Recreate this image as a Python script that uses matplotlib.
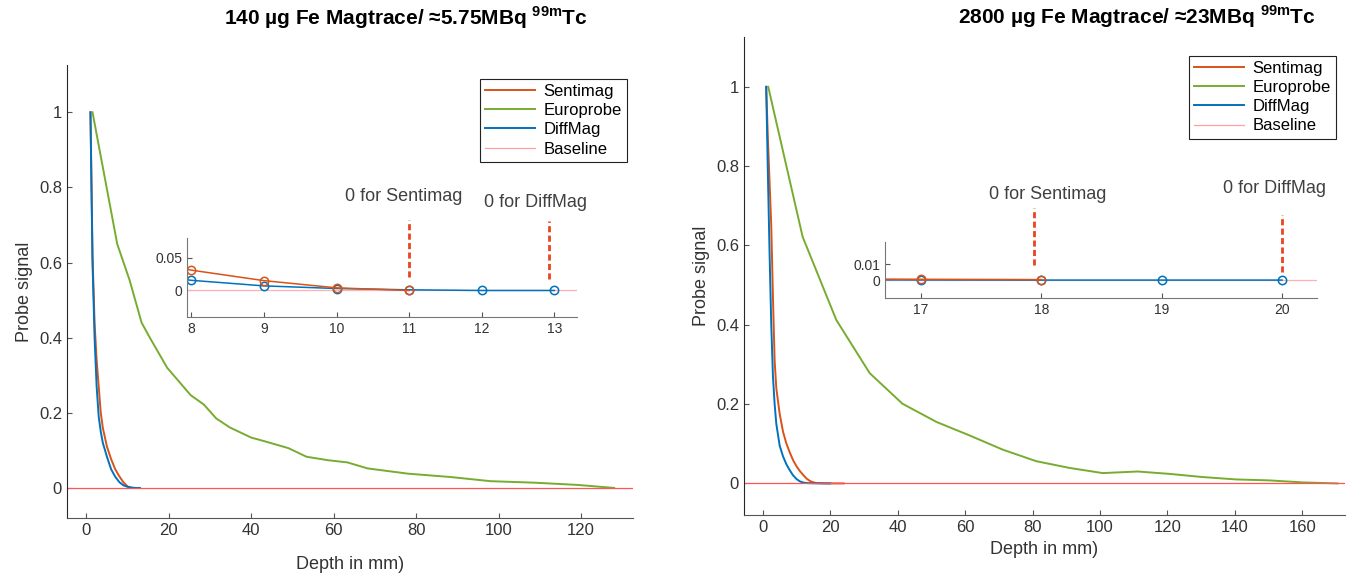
import matplotlib
matplotlib.use('Agg')
import matplotlib.pyplot as plt
import numpy as np

plt.rcParams['font.family'] = ['Liberation Sans', 'DejaVu Sans']
plt.rcParams['mathtext.fontset'] = 'custom'
plt.rcParams['mathtext.rm'] = 'Liberation Sans'
plt.rcParams['mathtext.bf'] = 'Liberation Sans:bold'

# ---- data: 140 ug Fe (left) ----
senti_x_l = [1, 1.5, 2, 2.5, 3, 3.5, 4, 5, 6, 7, 8, 9, 10, 11]
senti_y_l = [1.0, 0.62, 0.44, 0.34, 0.27, 0.2, 0.16, 0.11, 0.077, 0.05, 0.031, 0.015, 0.004, 0.0]
euro_x_l = [1.5, 7.5, 10.5, 13.4, 15.4, 19.6, 25.3, 28.5, 31.5, 34.8, 40, 43, 49, 53.4,
            58.5, 63.3, 68.2, 78, 88.4, 98, 108.7, 119.2, 128]
euro_y_l = [1.0, 0.649, 0.553, 0.44, 0.40, 0.32, 0.247, 0.222, 0.185, 0.161, 0.134, 0.125,
            0.106, 0.083, 0.074, 0.068, 0.052, 0.038, 0.029, 0.018, 0.014, 0.008, 0.0]
diff_x_l = [1, 1.5, 2, 2.5, 3, 3.5, 4, 5, 6, 7, 8, 9, 10, 11, 12, 13]
diff_y_l = [1.0, 0.6, 0.4, 0.27, 0.19, 0.15, 0.12, 0.083, 0.05, 0.03, 0.0155, 0.007, 0.003,
            0.001, 0.0, 0.0]
zero_l = {'Sentimag': 11, 'DiffMag': 13}
inset_start_l = 8

# ---- data: 2800 ug Fe (right) ----
senti_x_r = [1, 1.5, 2, 2.5, 3, 3.5, 4, 5, 6, 7, 8, 9, 10, 11, 12, 13, 14, 15, 16, 17, 18,
             19, 20, 22, 24]
senti_y_r = [1.0, 0.87, 0.76, 0.65, 0.47, 0.31, 0.24, 0.175, 0.13, 0.1, 0.078, 0.058, 0.043,
             0.031, 0.021, 0.012, 0.006, 0.0025, 0.0008, 0.0005, 0.0003, 0.0, 0.0, 0.0, 0.0]
euro_x_r = [1.6, 11.8, 21.8, 31.7, 41.4, 51.5, 61.3, 71.2, 81.1, 91, 100.8, 111.2, 120.6,
            130.5, 140.4, 150.2, 160.1, 170.5]
euro_y_r = [1.0, 0.622, 0.412, 0.278, 0.201, 0.155, 0.121, 0.085, 0.056, 0.039, 0.026,
            0.030, 0.024, 0.016, 0.010, 0.0076, 0.0025, 0.0]
diff_x_r = [1, 1.5, 2, 2.5, 3, 3.5, 4, 5, 6, 7, 8, 9, 10, 11, 12, 13, 14, 15, 16, 17, 18,
            19, 20]
diff_y_r = [1.0, 0.78, 0.58, 0.4, 0.27, 0.2, 0.15, 0.095, 0.068, 0.048, 0.033, 0.02, 0.011,
            0.005, 0.002, 0.001, 0.0005, 0.0003, 0.0002, 0.0001, 0.0, 0.0, 0.0]
zero_r = {'Sentimag': 18, 'DiffMag': 20}
inset_start_r = 16

baseline = 0.0

C_SENTI = '#D95319'
C_EURO = '#77AC30'
C_DIFF = '#0072BD'
C_BASE = '#FF5555'
C_DASH = '#E8441E'
TXT = '#333333'


def style_axes(ax, fs):
    for s in ['top', 'right']:
        ax.spines[s].set_visible(False)
    ax.spines['left'].set_color('#262626')
    ax.spines['bottom'].set_color('#555555')
    ax.tick_params(direction='in', colors='#555555', labelcolor=TXT, labelsize=fs)


def fmt(v):
    return ('%g' % v)


def main_panel(fig, rect, sx, sy, ex, ey, dx, dy, xlim, xmax_tick, legend_anchor, labelpad):
    ax = fig.add_axes(rect)
    ax.plot(sx, sy, color=C_SENTI, lw=1.4, label='Sentimag')
    ax.plot(ex, ey, color=C_EURO, lw=1.4, label='Europrobe')
    ax.plot(dx, dy, color=C_DIFF, lw=1.4, label='DiffMag')
    ax.axhline(baseline, color=C_BASE, lw=0.9, label='Baseline')
    ax.set_xlim(*xlim)
    ax.set_ylim(-0.08, 1.125)
    xt = np.arange(0, xmax_tick + 1, 20)
    ax.set_xticks(xt)
    yt = np.round(np.arange(0, 1.01, 0.2), 1)
    ax.set_yticks(yt)
    ax.set_yticklabels([fmt(v) for v in yt])
    style_axes(ax, 12)
    ax.set_ylabel('Probe signal', fontsize=13, color=TXT)
    ax.set_xlabel('Depth in mm)', fontsize=13, color=TXT, labelpad=labelpad)
    leg = ax.legend(loc='upper right', bbox_to_anchor=legend_anchor,
                    bbox_transform=fig.transFigure, fontsize=12, fancybox=False,
                    framealpha=1, edgecolor='#222222', borderpad=0.3, borderaxespad=0,
                    labelspacing=0.25, handlelength=3.0, handletextpad=0.5)
    leg.get_frame().set_linewidth(0.8)
    leg.legend_handles[3].set_color('#FFA0A0')
    return ax


def inset_panel(fig, rect, sx, sy, dx, dy, start, zero, xlim, ylim, yticks, xticks):
    ax = fig.add_axes(rect)
    sx = np.array(sx); sy = np.array(sy)
    dx = np.array(dx); dy = np.array(dy)
    md = (dx >= start - 1) & (dx <= zero['DiffMag']) & (dx == np.round(dx))
    ms = (sx >= start - 1) & (sx <= zero['Sentimag']) & (sx == np.round(sx))
    ax.axhline(baseline, color='#FFB0B0', lw=0.9)
    ax.plot(dx[md], dy[md], color=C_DIFF, lw=1.1, marker='o', ms=6, mfc='none', mew=1.1)
    ax.plot(sx[ms], sy[ms], color=C_SENTI, lw=1.1, marker='o', ms=6, mfc='none', mew=1.1)
    ax.set_xlim(*xlim)
    ax.set_ylim(*ylim)
    ax.set_xticks(xticks)
    ax.set_yticks(yticks)
    ax.set_yticklabels([fmt(v) for v in yticks])
    style_axes(ax, 10)
    ax.spines['left'].set_color('#777777')
    ax.spines['bottom'].set_color('#777777')
    return ax


fig = plt.figure(figsize=(13.47, 5.73), dpi=100)

# left panel
axl = main_panel(fig, [0.0497, 0.096, 0.420, 0.790], senti_x_l, senti_y_l, euro_x_l, euro_y_l,
                 diff_x_l, diff_y_l, (-4.7, 132.5), 120, (627 / 1347, 1 - 79 / 573), 13)
insl = inset_panel(fig, [0.1388, 0.4473, 0.2895, 0.1373], senti_x_l, senti_y_l, diff_x_l, diff_y_l,
                   inset_start_l, zero_l, (7.94, 13.31), (-0.04, 0.08), [0, 0.05],
                   np.arange(8, 14))
insl.plot([zero_l['Sentimag']] * 2, [0.021, 0.108], color=C_DASH, lw=2, ls=(0, (2.2, 1.2)),
          clip_on=False)
insl.plot([zero_l['DiffMag'] - 0.08] * 2, [0.018, 0.106], color=C_DASH, lw=2, ls=(0, (2.2, 1.2)),
          clip_on=False)
insl.text(10.93, 0.144, '0 for Sentimag', ha='center', va='center', fontsize=13, color='#404040')
insl.text(12.74, 0.134, '0 for DiffMag', ha='center', va='center', fontsize=13, color='#404040')

# right panel
axr = main_panel(fig, [0.5523, 0.101, 0.446, 0.834], senti_x_r, senti_y_r, euro_x_r, euro_y_r,
                 diff_x_r, diff_y_r, (-5.6, 172.6), 160, (1336 / 1347, 1 - 56 / 573), 4)
insr = inset_panel(fig, [0.6570, 0.4805, 0.3207, 0.0977], senti_x_r, senti_y_r, diff_x_r, diff_y_r,
                   inset_start_r, zero_r, (16.7, 20.29), (-0.011, 0.024), [0, 0.01],
                   np.arange(17, 21))
insr.plot([zero_r['Sentimag'] - 0.06] * 2, [0.0094, 0.045], color=C_DASH, lw=2,
          ls=(0, (2.2, 1.2)), clip_on=False)
insr.plot([zero_r['DiffMag']] * 2, [0.0053, 0.0406], color=C_DASH, lw=2,
          ls=(0, (2.2, 1.2)), clip_on=False)
insr.text(18.05, 0.0535, '0 for Sentimag', ha='center', va='center', fontsize=13, color='#404040')
insr.text(19.94, 0.057, '0 for DiffMag', ha='center', va='center', fontsize=13, color='#404040')

fig.text(406 / 1347, 1 - 18 / 573, r'140 µg Fe Magtrace/ ≈5.75MBq $^{\mathbf{99m}}$Tc',
         ha='center', va='center', fontsize=15, fontweight='bold')
fig.text(1137 / 1347, 1 - 17 / 573, r'2800 µg Fe Magtrace/ ≈23MBq $^{\mathbf{99m}}$Tc',
         ha='center', va='center', fontsize=15, fontweight='bold')

fig.savefig('out.png', dpi=100)
